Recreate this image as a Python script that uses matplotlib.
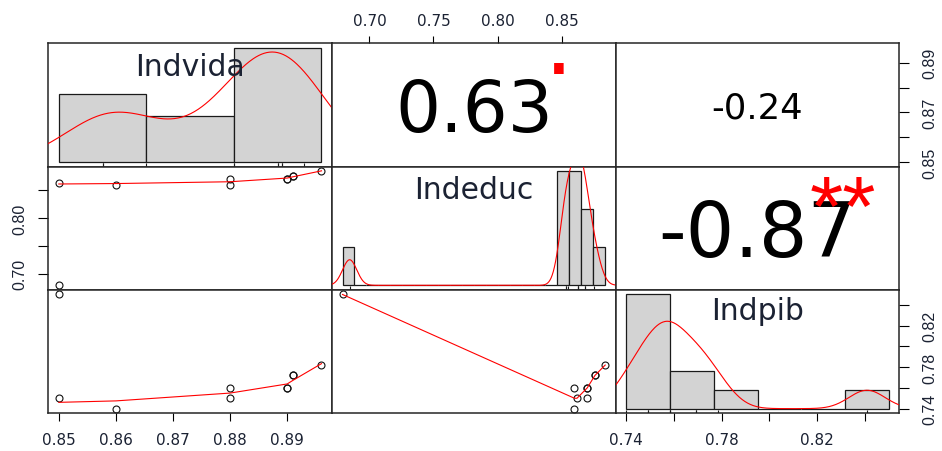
import math
import numpy as np
import matplotlib
matplotlib.use("Agg")
import matplotlib.pyplot as plt
import matplotlib.transforms as mtransforms
from matplotlib.font_manager import FontProperties
from matplotlib.textpath import TextPath, text_to_path

plt.rcParams['font.family'] = ['DejaVu Sans']

names = ["Indvida", "Indeduc", "Indpib"]
indvida = [0.85, 0.85, 0.86, 0.88, 0.88, 0.89, 0.89, 0.891, 0.891, 0.896]
indeduc = [0.679, 0.862, 0.86, 0.86, 0.87, 0.87, 0.87, 0.876, 0.876, 0.884]
indpib = [0.85, 0.75, 0.74, 0.76, 0.75, 0.76, 0.76, 0.772, 0.772, 0.782]

# histogram bin edges for the diagonal
breaks_vida = [0.84, 0.86, 0.88, 0.90]
breaks_educ = np.round(0.673 + 0.01 * np.arange(23), 3)
breaks_pib = [0.74, 0.76, 0.78, 0.80, 0.82, 0.84, 0.86]

ticks_vida = [0.85, 0.86, 0.87, 0.88, 0.89]
ticks_educ = [0.70, 0.75, 0.80, 0.85]
ticks_pib = [0.74, 0.76, 0.78, 0.80, 0.82, 0.84]
# which tick values get a label (the rest are bare ticks)
shown_vida_right = [0.85, 0.87, 0.89]
shown_educ_left = [0.70, 0.80]
shown_pib = [0.74, 0.78, 0.82]

sig_cuts = [0.001, 0.01, 0.05, 0.1]
sig_marks = ["***", "**", "*", "."]

data = [np.array(indvida), np.array(indeduc), np.array(indpib)]
breaks = [np.array(breaks_vida), np.array(breaks_educ), np.array(breaks_pib)]

TXT = '#1b2233'
FIG_W, FIG_H = 942, 452
PX_L, PX_T, PX_W, PX_H = 48.3, 44.3, 283.7, 123.3


def padded(v):
    lo, hi = min(v), max(v)
    d = hi - lo
    return lo - 0.04 * d, hi + 0.04 * d


def lowess(x, y, f=2 / 3, iters=3):
    o = np.argsort(x, kind="stable")
    x = np.asarray(x, float)[o]
    y = np.asarray(y, float)[o]
    n = len(x)
    ns = max(2, min(n, int(f * n + 1e-7)))
    rng = x[-1] - x[0]
    rw = np.ones(n)
    ys = np.zeros(n)
    for it in range(iters + 1):
        nleft, nright = 0, ns - 1
        for i in range(n):
            while nright < n - 1 and x[i] - x[nleft] > x[nright + 1] - x[i]:
                nleft += 1
                nright += 1
            h = max(x[i] - x[nleft], x[nright] - x[i])
            w = np.zeros(n)
            j = nleft
            while j < n:
                r = abs(x[j] - x[i])
                if r <= 0.999 * h:
                    w[j] = 1.0 if r <= 0.001 * h else (1 - (r / h) ** 3) ** 3
                    if it > 0:
                        w[j] *= rw[j]
                elif x[j] > x[i]:
                    break
                j += 1
            a = w.sum()
            if a <= 0:
                ys[i] = y[i]
                continue
            w = w / a
            if h > 0:
                xm = (w * x).sum()
                c = (w * (x - xm) ** 2).sum()
                if math.sqrt(c) > 0.001 * rng:
                    w = w * ((x[i] - xm) / c * (x - xm) + 1)
            ys[i] = (w * y).sum()
        if it == iters:
            break
        res = np.abs(y - ys)
        cmad = 6 * np.median(res)
        if cmad < 1e-7 * res.mean():
            break
        r = res / cmad
        rw = np.where(r <= 0.001, 1.0, np.where(r <= 0.999, (1 - r ** 2) ** 2, 0.0))
    return x, ys


def kde(v):
    n = len(v)
    sd = v.std(ddof=1)
    q1, q3 = np.percentile(v, [25, 75])
    lo = min(sd, (q3 - q1) / 1.34) or sd
    bw = 0.9 * lo * n ** -0.2
    gx = np.linspace(v.min() - 3 * bw, v.max() + 3 * bw, 512)
    gy = np.exp(-0.5 * ((gx[:, None] - v[None, :]) / bw) ** 2).sum(1) / (n * bw * math.sqrt(2 * math.pi))
    return gx, gy


def cor_pvalue(r, n):
    df = n - 2
    t = r * math.sqrt(df / (1 - r * r))
    xb = df / (df + t * t)
    a, b = df / 2, 0.5
    u = np.linspace(0, xb, 20001)
    beta = math.exp(math.lgamma(a) + math.lgamma(b) - math.lgamma(a + b))
    return np.trapezoid(u ** (a - 1) * (1 - u) ** (b - 1), u) / beta


def ink_centered(ax, x, y, s, fp, color):
    ext = TextPath((0, 0), s, prop=fp).get_extents()
    dy = -(ext.y0 + ext.y1) / 2
    off = mtransforms.ScaledTranslation(0, dy / 72, fig.dpi_scale_trans)
    ax.text(x, y, s, transform=ax.transAxes + off, ha='center', va='baseline',
            fontproperties=fp, color=color, zorder=5)


def rect(i, j):
    left = PX_L + j * PX_W
    top = PX_T + i * PX_H
    return [left / FIG_W, 1 - (top + PX_H) / FIG_H, PX_W / FIG_W, PX_H / FIG_H]


fig = plt.figure(figsize=(FIG_W / 100, FIG_H / 100), dpi=100)
panel_w_pt = PX_W / 100 * 72
axes = {}

for i in range(3):
    for j in range(3):
        ax = fig.add_axes(rect(i, j))
        axes[i, j] = ax
        ax.set_xlim(padded(data[j]))
        ax.set_ylim(padded(data[i]))
        ax.set_xticks([])
        ax.set_yticks([])
        for sp in ax.spines.values():
            sp.set_linewidth(1.1)
            sp.set_color('#262626')

        if i == j:
            v = data[i]
            br = breaks[i]
            h = fig.add_axes(rect(i, j), frameon=False)
            h.set_axis_off()
            counts = np.histogram(-v, bins=-br[::-1])[0][::-1]
            widths = np.diff(br)
            dens = counts / (len(v) * widths)
            h.bar(br[:-1], dens, width=widths, align='edge', color='#d3d3d3',
                  edgecolor='#1a1a1a', linewidth=0.9)
            gx, gy = kde(v)
            h.plot(gx, gy, color='red', lw=0.8)
            h.vlines(v, 0, 0.03, transform=h.get_xaxis_transform(), color='#1a1a1a', lw=0.8)
            h.set_xlim(padded(br))
            m = dens.max()
            h.set_ylim(-0.04 * m, 1.04 * m)
            ink_centered(h, 0.5, 0.833, names[i], FontProperties(family='DejaVu Sans', size=21.5), TXT)
        elif i > j:
            ax.plot(data[j], data[i], 'o', mfc='none', mec='#111111', ms=5, mew=0.8)
            sx, sy = lowess(data[j], data[i])
            ax.plot(sx, sy, color='red', lw=0.8)
        else:
            r = np.corrcoef(data[j], data[i])[0, 1]
            txt = f"{r:.2f}"
            w100 = text_to_path.get_text_width_height_descent(
                txt, FontProperties(family='DejaVu Sans', size=100), ismath=False)[0]
            fs = 100 * 0.78 * (abs(r) + 0.3) / 1.3 * panel_w_pt / w100
            ink_centered(ax, 0.5, 0.5, txt, FontProperties(family='DejaVu Sans', size=fs), 'black')
            p = cor_pvalue(r, len(data[i]))
            mark = next((s for c, s in zip(sig_cuts, sig_marks) if p < c), "")
            if mark:
                star_fp = FontProperties(family='Liberation Sans', size=fs * 1.3 / (abs(r) + 0.3))
                ink_centered(ax, 0.8, 0.8, mark, star_fp, 'red')


def fmt(vals, shown):
    return [f"{t:.2f}" if t in shown else "" for t in vals]


ylab_fp = FontProperties(family='Liberation Sans', size=11.5)

# bottom axes: Indvida and Indpib
for j, tk, shown in [(0, ticks_vida, ticks_vida), (2, ticks_pib, shown_pib)]:
    ax = axes[2, j]
    ax.set_xticks(tk, fmt(tk, shown))
    ax.tick_params(axis='x', bottom=True, labelbottom=True, length=5.4, width=0.8,
                   pad=8.3, labelsize=11, labelcolor=TXT)

# top axis: Indeduc
ax = axes[0, 1]
ax.xaxis.tick_top()
ax.set_xticks(ticks_educ, fmt(ticks_educ, ticks_educ))
ax.tick_params(axis='x', top=True, labeltop=True, bottom=False, labelbottom=False,
               length=5.4, width=0.8, pad=5.4, labelsize=11, labelcolor=TXT)

# right axes: Indvida (row 1) and Indpib (row 3)
for i, tk, shown in [(0, ticks_vida, shown_vida_right), (2, ticks_pib, shown_pib)]:
    ax = axes[i, 2]
    ax.yaxis.tick_right()
    ax.set_yticks(tk, fmt(tk, shown))
    ax.tick_params(axis='y', right=True, labelright=True, left=False, labelleft=False,
                   length=7.2, width=0.8, pad=9, labelrotation=90, labelcolor=TXT)
    for lbl in ax.get_yticklabels():
        lbl.set_fontproperties(ylab_fp)
        lbl.set_verticalalignment('center')

# left axis: Indeduc
ax = axes[1, 0]
ax.set_yticks(ticks_educ, fmt(ticks_educ, shown_educ_left))
ax.tick_params(axis='y', left=True, labelleft=True, length=7.2, width=0.8, pad=7.9,
               labelrotation=90, labelcolor=TXT)
for lbl in ax.get_yticklabels():
    lbl.set_fontproperties(ylab_fp)
    lbl.set_verticalalignment('center')

fig.savefig("out.png", dpi=100)
